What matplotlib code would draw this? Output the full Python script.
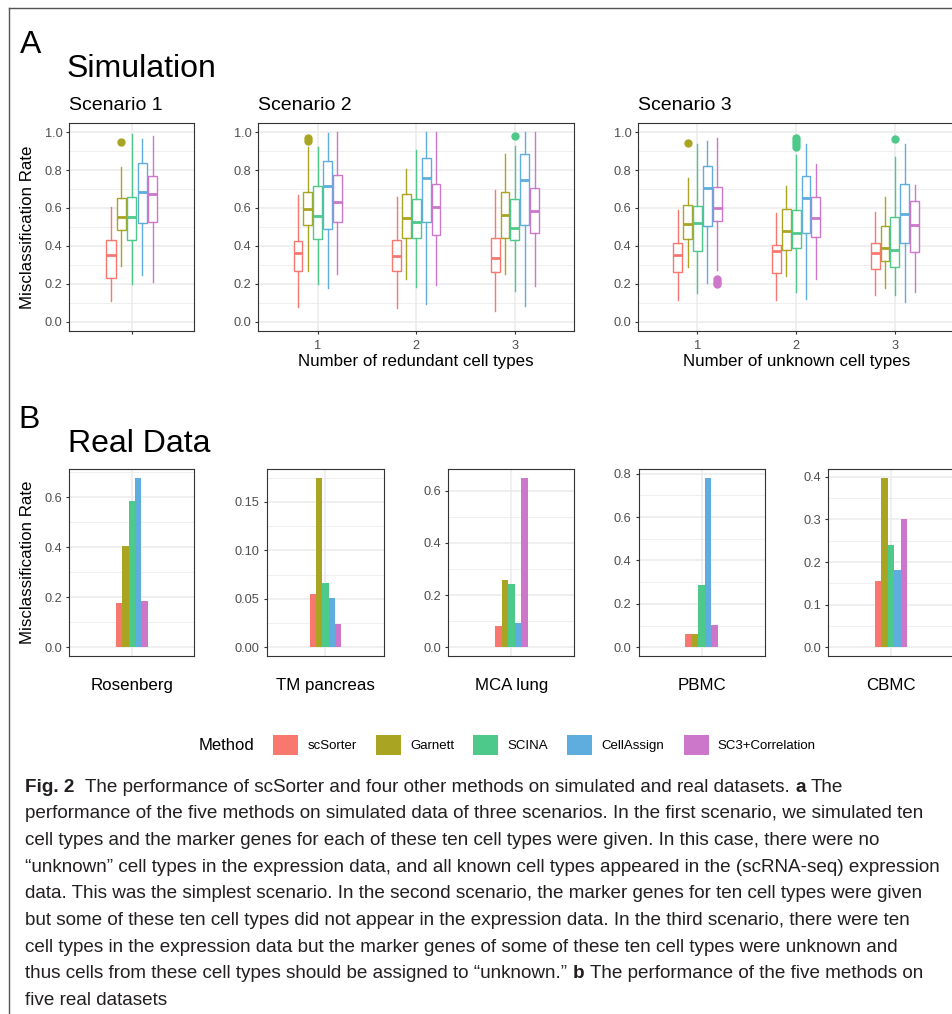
import numpy as np
import matplotlib
matplotlib.use('Agg')
import matplotlib.pyplot as plt
from matplotlib.patches import Patch
from matplotlib.lines import Line2D
from matplotlib.ticker import FormatStrFormatter
from matplotlib import font_manager

plt.rcParams['font.family'] = ['Liberation Sans', 'DejaVu Sans']

W, H = 953, 1014

methods = ['scSorter', 'Garnett', 'SCINA', 'CellAssign', 'SC3+Correlation']
colors = ['#F8786F', '#A9A523', '#4DC98A', '#5EADDE', '#CC77C9']

# Scenario 1: one group, five methods
s1_whislo = [0.11, 0.293, 0.20, 0.244, 0.21]
s1_q1 = [0.228, 0.482, 0.43, 0.521, 0.525]
s1_med = [0.349, 0.551, 0.554, 0.686, 0.675]
s1_q3 = [0.43, 0.653, 0.66, 0.837, 0.768]
s1_whishi = [0.607, 0.816, 0.991, 0.963, 0.981]
s1_fliers = [[], [0.947], [], [], []]

# Scenario 2: number of redundant cell types 1..3
s2_groups = ['1', '2', '3']
s2_whislo = [[0.077, 0.267, 0.20, 0.175, 0.25], [0.07, 0.225, 0.18, 0.095, 0.195], [0.055, 0.25, 0.16, 0.08, 0.19]]
s2_q1 = [[0.268, 0.512, 0.437, 0.489, 0.528], [0.265, 0.44, 0.44, 0.525, 0.455], [0.26, 0.44, 0.43, 0.51, 0.465]]
s2_med = [[0.36, 0.596, 0.556, 0.718, 0.63], [0.345, 0.545, 0.525, 0.76, 0.605], [0.335, 0.565, 0.495, 0.745, 0.585]]
s2_q3 = [[0.423, 0.682, 0.714, 0.847, 0.775], [0.43, 0.675, 0.645, 0.865, 0.725], [0.44, 0.685, 0.645, 0.885, 0.705]]
s2_whishi = [[0.67, 0.921, 0.921, 0.995, 1.0], [0.66, 0.805, 0.905, 1.0, 1.0], [0.695, 0.885, 0.925, 1.0, 1.0]]
s2_fliers = [[[], [0.97, 0.955], [], [], []], [[], [], [], [], []], [[], [], [0.98], [], []]]

# Scenario 3: number of unknown cell types 1..3
s3_groups = ['1', '2', '3']
s3_whislo = [[0.115, 0.29, 0.15, 0.205, 0.27], [0.115, 0.24, 0.155, 0.12, 0.225], [0.14, 0.175, 0.14, 0.105, 0.155]]
s3_q1 = [[0.26, 0.435, 0.375, 0.505, 0.53], [0.255, 0.38, 0.39, 0.465, 0.445], [0.28, 0.32, 0.29, 0.415, 0.365]]
s3_med = [[0.35, 0.515, 0.52, 0.705, 0.60], [0.37, 0.48, 0.465, 0.65, 0.545], [0.36, 0.39, 0.38, 0.57, 0.51]]
s3_q3 = [[0.415, 0.615, 0.61, 0.82, 0.71], [0.405, 0.595, 0.59, 0.77, 0.66], [0.415, 0.505, 0.55, 0.725, 0.635]]
s3_whishi = [[0.59, 0.76, 0.935, 0.955, 0.97], [0.575, 0.715, 0.88, 0.935, 0.83], [0.58, 0.655, 0.87, 0.94, 0.72]]
s3_fliers = [[[], [0.945], [], [], [0.225, 0.21, 0.2]], [[], [], [0.97, 0.955, 0.935, 0.92], [], []], [[], [], [0.965], [], []]]

# Real data
datasets = ['Rosenberg', 'TM pancreas', 'MCA lung', 'PBMC', 'CBMC']
real_rates = [[0.176, 0.405, 0.585, 0.677, 0.184],
              [0.055, 0.175, 0.066, 0.051, 0.024],
              [0.081, 0.258, 0.242, 0.092, 0.65],
              [0.060, 0.060, 0.287, 0.781, 0.102],
              [0.155, 0.398, 0.24, 0.181, 0.301]]
real_steps = [0.2, 0.05, 0.2, 0.2, 0.1]

caption = [
    [('Fig. 2', 'bold'), ('  The performance of scSorter and four other methods on simulated and real datasets.', 'normal'),
     (' a', 'bold'), (' The', 'normal')],
    [('performance of the five methods on simulated data of three scenarios. In the first scenario, we simulated ten', 'normal')],
    [('cell types and the marker genes for each of these ten cell types were given. In this case, there were no', 'normal')],
    [('\u201cunknown\u201d cell types in the expression data, and all known cell types appeared in the (scRNA-seq) expression', 'normal')],
    [('data. This was the simplest scenario. In the second scenario, the marker genes for ten cell types were given', 'normal')],
    [('but some of these ten cell types did not appear in the expression data. In the third scenario, there were ten', 'normal')],
    [('cell types in the expression data but the marker genes of some of these ten cell types were unknown and', 'normal')],
    [('thus cells from these cell types should be assigned to \u201cunknown.\u201d', 'normal'), (' b', 'bold'),
     (' The performance of the five methods on', 'normal')],
    [('five real datasets', 'normal')],
]


def fx(x):
    return x / W


def fy(y):
    return 1 - y / H


def rect(l, t, r, b):
    return [l / W, 1 - b / H, (r - l) / W, (b - t) / H]


def style_axes(ax, ymax, step):
    top = 1.05 * ymax
    ax.set_ylim(-0.05 * ymax, top)
    major = np.arange(0, top, step)
    ax.set_yticks(major)
    minor = major + step / 2
    ax.set_yticks(minor[minor < top], minor=True)
    ax.yaxis.set_major_formatter(FormatStrFormatter('%.2f' if step < 0.1 else '%.1f'))
    ax.set_axisbelow(True)
    ax.grid(True, which='major', color='#EBEBEB', lw=1.1)
    ax.grid(True, which='minor', axis='y', color='#EBEBEB', lw=0.55)
    for s in ax.spines.values():
        s.set_color('#333333')
        s.set_linewidth(0.8)
    ax.tick_params(which='major', length=2.5, width=0.8, color='#333333',
                   labelsize=9.2, labelcolor='#4D4D4D', pad=2.5)
    ax.tick_params(which='minor', length=0)


def draw_boxes(ax, centers, whislo, q1, med, q3, whishi, fliers):
    for g, center in enumerate(centers):
        for m in range(len(methods)):
            c = colors[m]
            st = [dict(whislo=whislo[g][m], q1=q1[g][m], med=med[g][m],
                       q3=q3[g][m], whishi=whishi[g][m], fliers=fliers[g][m])]
            ax.bxp(st, positions=[center + (m - 2) * 0.1], widths=0.09,
                   showcaps=False, patch_artist=True, manage_ticks=False,
                   boxprops=dict(facecolor='white', edgecolor=c, linewidth=1.0),
                   whiskerprops=dict(color=c, linewidth=1.0),
                   medianprops=dict(color=c, linewidth=2.0, solid_capstyle='butt'),
                   flierprops=dict(marker='o', markerfacecolor=c, markeredgecolor=c,
                                   markersize=5, linestyle='none'))


fig = plt.figure(figsize=(W / 100, H / 100), dpi=100)

# frame of the figure box
fig.add_artist(Line2D([fx(9), fx(953)], [fy(8), fy(8)], color='#555555', lw=1))
fig.add_artist(Line2D([fx(9), fx(9)], [fy(8), fy(1014)], color='#555555', lw=1))

# ---- A: Simulation
fig.text(fx(20), fy(52.7), 'A', fontsize=23, va='baseline')
fig.text(fx(67), fy(77), 'Simulation', fontsize=23, va='baseline')

top_a, bot_a = 122.7, 331
ax1 = fig.add_axes(rect(69.3, top_a, 194.3, bot_a))
style_axes(ax1, 1.0, 0.2)
ax1.set_xlim(0.4, 1.6)
ax1.set_xticks([1])
ax1.set_xticklabels([''])
draw_boxes(ax1, [1], [s1_whislo], [s1_q1], [s1_med], [s1_q3], [s1_whishi], [s1_fliers])
ax1.set_title('Scenario 1', loc='left', fontsize=14, pad=9)
ax1.set_ylabel('Misclassification Rate', fontsize=12.2)
ax1.yaxis.set_label_coords((35 - 69.3) / 125, 0.5)

for (l, r), groups, wl, a, md, b, wh, fl, title, xl in [
        ((258.5, 574), s2_groups, s2_whislo, s2_q1, s2_med, s2_q3, s2_whishi, s2_fliers,
         'Scenario 2', 'Number of redundant cell types'),
        ((638.3, 954), s3_groups, s3_whislo, s3_q1, s3_med, s3_q3, s3_whishi, s3_fliers,
         'Scenario 3', 'Number of unknown cell types')]:
    ax = fig.add_axes(rect(l, top_a, r, bot_a))
    style_axes(ax, 1.0, 0.2)
    pos = np.arange(1, len(groups) + 1)
    ax.set_xlim(0.4, len(groups) + 0.6)
    ax.set_xticks(pos)
    ax.set_xticklabels(groups)
    ax.tick_params(axis='x', pad=4)
    draw_boxes(ax, pos, wl, a, md, b, wh, fl)
    ax.set_title(title, loc='left', fontsize=14, pad=9)
    ax.set_xlabel(xl, fontsize=12.2)
    ax.xaxis.set_label_coords(0.5, (bot_a - 354) / (bot_a - top_a))

# ---- B: Real Data
fig.text(fx(18.3), fy(428.3), 'B', fontsize=23, va='baseline')
fig.text(fx(68.3), fy(451.7), 'Real Data', fontsize=23, va='baseline')

top_b, bot_b = 469.3, 655.7
real_px = [(69.3, 194.3), (266.7, 384.3), (448.5, 574.2), (638.5, 764.5), (828.4, 953.5)]
for i, name in enumerate(datasets):
    l, r = real_px[i]
    ax = fig.add_axes(rect(l, top_b, r, bot_b))
    vals = real_rates[i]
    style_axes(ax, max(vals), real_steps[i])
    ax.set_xlim(0.4, 1.6)
    ax.set_xticks([1])
    ax.set_xticklabels([''])
    ax.tick_params(axis='x', length=0)
    offs = (np.arange(len(methods)) - 2) * 0.062
    ax.bar(1 + offs, vals, width=0.062, color=colors, linewidth=0)
    ax.set_xlabel(name, fontsize=12.2)
    ax.xaxis.set_label_coords(0.5, (bot_b - 678) / (bot_b - top_b))
    if i == 0:
        ax.set_ylabel('Misclassification Rate', fontsize=12.2)
        ax.yaxis.set_label_coords((35 - 69.3) / 125, 0.5)

# ---- legend
fig.text(fx(199), fy(745), 'Method', fontsize=12, va='center')
handles = [Patch(facecolor=c, edgecolor='none') for c in colors]
fig.legend(handles, methods, ncol=5, frameon=False, fontsize=9.5,
           loc='center left', bbox_to_anchor=(fx(273), fy(745)),
           borderpad=0, borderaxespad=0, handlelength=1.9, handleheight=1.9,
           handletextpad=0.7, columnspacing=1.45)

# ---- caption
try:
    font_manager.findfont('Liberation Sans Narrow', fallback_to_default=False)
    cap_family = ['Liberation Sans Narrow', 'DejaVu Sans']
except ValueError:
    cap_family = ['Liberation Sans', 'DejaVu Sans']

renderer = fig.canvas.get_renderer()


def text_width(s, weight, size):
    t = fig.text(0, 0, s, fontsize=size, fontweight=weight, family=cap_family)
    w = t.get_window_extent(renderer).width
    t.remove()
    return w


base = 14
cap_size = base * 923 / text_width(caption[3][0][0], 'normal', base)
space_w = text_width('n n', 'normal', cap_size) - text_width('nn', 'normal', cap_size)

y0 = 791.7
for k, line in enumerate(caption):
    x = 25.5
    y = y0 + k * 26.65
    for s, weight in line:
        lead = len(s) - len(s.lstrip(' '))
        x += lead * space_w
        s = s.lstrip(' ')
        fig.text(fx(x), fy(y), s, fontsize=cap_size, fontweight=weight,
                 family=cap_family, color='#231F20', va='baseline')
        x += text_width(s, weight, cap_size)

fig.savefig('out.png', dpi=100)
